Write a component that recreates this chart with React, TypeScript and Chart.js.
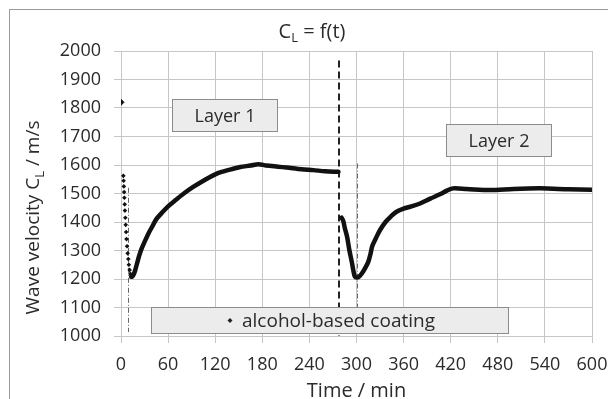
import React, { useEffect, useRef } from "react";
import { Chart, registerables } from "chart.js";

Chart.register(...registerables);

// ---- data ----
const xTickStep = 60;
const xMin = 0;
const xMax = 600;
const yMin = 1000;
const yMax = 2000;
const yTickStep = 100;

const outlierTime = [0];
const outlierValue = [1820];

const layer1DropTime = [3, 3.3, 3.6, 4, 4.3, 4.7, 5, 5.5, 6, 6.5, 7, 7.7, 8.5, 9.3, 10, 11, 12, 13];
const layer1DropValue = [1562, 1545, 1525, 1505, 1485, 1462, 1440, 1415, 1390, 1365, 1340, 1315, 1290, 1270, 1250, 1232, 1218, 1208];

const layer1Time = [13, 14, 16, 18, 20, 23, 26, 30, 35, 40, 45, 52, 60, 70, 80, 92, 105, 122, 139, 152, 165, 175, 185, 200, 211, 230, 245, 260, 277];
const layer1Value = [1208, 1208, 1215, 1230, 1250, 1280, 1305, 1330, 1360, 1385, 1410, 1432, 1455, 1478, 1500, 1523, 1545, 1570, 1584, 1593, 1598, 1603, 1598, 1594, 1591, 1585, 1582, 1578, 1576];

const layer2Time = [281, 283, 285, 288, 291, 294, 296, 298, 301, 304, 307, 311, 315, 318, 320, 325, 330, 337, 344, 351, 360, 370, 381, 394, 407, 415, 423, 440, 470, 500, 534, 570, 600];
const layer2Value = [1415, 1405, 1380, 1348, 1300, 1260, 1230, 1208, 1205, 1210, 1220, 1238, 1260, 1290, 1315, 1345, 1372, 1400, 1420, 1436, 1447, 1455, 1465, 1482, 1498, 1510, 1518, 1516, 1512, 1516, 1518, 1515, 1513];

const boundaryTime = 278;
const boundaryTop = 1967;
const minimumTimes = [9.3, 300];
const minimumTops = [1520, 1605];

const titleMain = "C";
const titleSub = "L";
const titleRest = " = f(t)";
const yTitleParts = ["Wave velocity C", "L", " / m/s"];
const xTitle = "Time / min";
const layer1Label = "Layer 1";
const layer2Label = "Layer 2";
const legendLabel = "alcohol-based coating";

// annotation boxes in data space [tStart, tEnd, vTop, vBottom]
const layer1Box = [65, 199, 1831, 1719];
const layer2Box = [414.5, 548, 1743, 1631];
const legendBox = [38, 493, 1102, 1010];

const FONT = "'Open Sans', 'DejaVu Sans', sans-serif";
const TEXT = "#2b2b2b";

function pts(t: number[], v: number[]) {
  return t.map((x, i) => ({ x, y: v[i] }));
}

export default function App() {
  const ref = useRef<HTMLCanvasElement | null>(null);

  useEffect(() => {
    if (!ref.current) return;

    const overlay = {
      id: "overlay",
      beforeDatasetsDraw(chart: any) {
        const ctx = chart.ctx;
        const xs = chart.scales.x;
        const ys = chart.scales.y;
        ctx.save();
        ctx.strokeStyle = "#222";
        ctx.lineWidth = 2;
        ctx.setLineDash([7, 4]);
        const bx = Math.round(xs.getPixelForValue(boundaryTime));
        ctx.beginPath();
        ctx.moveTo(bx, ys.getPixelForValue(boundaryTop));
        ctx.lineTo(bx, ys.getPixelForValue(yMin));
        ctx.stroke();
        ctx.strokeStyle = "#666";
        ctx.lineWidth = 1;
        ctx.setLineDash([5, 2, 1, 2]);
        minimumTimes.forEach((t, i) => {
          const x = Math.round(xs.getPixelForValue(t)) + 0.5;
          ctx.beginPath();
          ctx.moveTo(x, ys.getPixelForValue(minimumTops[i]));
          ctx.lineTo(x, ys.getPixelForValue(yMin) - 4);
          ctx.stroke();
        });
        ctx.restore();
      },
      afterDatasetsDraw(chart: any) {
        const ctx = chart.ctx;
        const xs = chart.scales.x;
        const ys = chart.scales.y;
        const drawBox = (b: number[]) => {
          const x0 = Math.round(xs.getPixelForValue(b[0])) + 0.5;
          const x1 = Math.round(xs.getPixelForValue(b[1])) + 0.5;
          const y0 = Math.round(ys.getPixelForValue(b[2])) + 0.5;
          const y1 = Math.round(ys.getPixelForValue(b[3])) + 0.5;
          ctx.fillStyle = "#ececec";
          ctx.fillRect(x0, y0, x1 - x0, y1 - y0);
          ctx.strokeStyle = "#8c8c8c";
          ctx.lineWidth = 1;
          ctx.strokeRect(x0, y0, x1 - x0, y1 - y0);
          return { x0, x1, y0, y1 };
        };
        ctx.save();
        ctx.textBaseline = "middle";
        ctx.font = `18px ${FONT}`;
        let r = drawBox(layer1Box);
        ctx.fillStyle = TEXT;
        ctx.textAlign = "center";
        ctx.fillText(layer1Label, (r.x0 + r.x1) / 2, (r.y0 + r.y1) / 2 + 1);
        r = drawBox(layer2Box);
        ctx.fillStyle = TEXT;
        ctx.fillText(layer2Label, (r.x0 + r.x1) / 2, (r.y0 + r.y1) / 2 + 1);
        r = drawBox(legendBox);
        ctx.font = `19px ${FONT}`;
        const tw = ctx.measureText(legendLabel).width;
        const total = tw + 15;
        const sx = (r.x0 + r.x1) / 2 - total / 2 + 4;
        const cy = (r.y0 + r.y1) / 2;
        ctx.fillStyle = "#222";
        ctx.beginPath();
        ctx.moveTo(sx, cy - 2.5);
        ctx.lineTo(sx + 2.5, cy);
        ctx.lineTo(sx, cy + 2.5);
        ctx.lineTo(sx - 2.5, cy);
        ctx.closePath();
        ctx.fill();
        ctx.fillStyle = TEXT;
        ctx.textAlign = "left";
        ctx.fillText(legendLabel, sx + 12, cy + 1);
        ctx.restore();
      },
      afterDraw(chart: any) {
        const ctx = chart.ctx;
        const xs = chart.scales.x;
        const ys = chart.scales.y;
        ctx.save();
        ctx.strokeStyle = "#9a9a9a";
        ctx.lineWidth = 1;
        ctx.strokeRect(9.5, 9.5, 700, 500);
        ctx.fillStyle = TEXT;
        ctx.textBaseline = "middle";
        const big = `20px ${FONT}`;
        const small = `13px ${FONT}`;
        ctx.font = big;
        const w1 = ctx.measureText(titleMain).width;
        const w3 = ctx.measureText(titleRest).width;
        ctx.font = small;
        const w2 = ctx.measureText(titleSub).width;
        let x = 312 - (w1 + w2 + w3) / 2;
        const ty = 32;
        ctx.textAlign = "left";
        ctx.font = big;
        ctx.fillText(titleMain, x, ty);
        x += w1;
        ctx.font = small;
        ctx.fillText(titleSub, x, ty + 6);
        x += w2;
        ctx.font = big;
        ctx.fillText(titleRest, x, ty);
        ctx.textAlign = "center";
        ctx.font = `20px ${FONT}`;
        ctx.fillText(xTitle, (xs.left + xs.right) / 2, 391);
        ctx.translate(34, (ys.top + ys.bottom) / 2 + 24);
        ctx.rotate(-Math.PI / 2);
        const ybig = `19px ${FONT}`;
        const ysmall = `13px ${FONT}`;
        ctx.font = ybig;
        const a = ctx.measureText(yTitleParts[0]).width;
        const c = ctx.measureText(yTitleParts[2]).width;
        ctx.font = ysmall;
        const b = ctx.measureText(yTitleParts[1]).width;
        let px = -(a + b + c) / 2;
        ctx.textAlign = "left";
        ctx.font = ybig;
        ctx.fillText(yTitleParts[0], px, 0);
        px += a;
        ctx.font = ysmall;
        ctx.fillText(yTitleParts[1], px, 6);
        px += b;
        ctx.font = ybig;
        ctx.fillText(yTitleParts[2], px, 0);
        ctx.restore();
      },
    };

    const chart = new Chart(ref.current, {
      type: "scatter",
      data: {
        datasets: [
          {
            data: pts(outlierTime, outlierValue),
            showLine: false,
            pointStyle: "rectRot",
            pointRadius: 3,
            backgroundColor: "#111",
            borderColor: "#111",
          },
          {
            data: pts(layer1DropTime, layer1DropValue),
            showLine: false,
            pointStyle: "rectRot",
            pointRadius: 2.3,
            backgroundColor: "#111",
            borderColor: "#111",
            borderWidth: 0,
          },
          {
            data: pts(layer1Time, layer1Value),
            showLine: true,
            borderColor: "#111",
            borderWidth: 4.5,
            pointRadius: 0,
            tension: 0.3,
            borderJoinStyle: "round",
            borderCapStyle: "round",
          },
          {
            data: pts(layer2Time, layer2Value),
            showLine: true,
            borderColor: "#111",
            borderWidth: 4.5,
            pointRadius: 0,
            tension: 0.3,
            borderJoinStyle: "round",
            borderCapStyle: "round",
          },
        ],
      } as any,
      options: {
        animation: false,
        responsive: false,
        maintainAspectRatio: false,
        layout: { padding: { left: 0, right: 16, top: 51, bottom: 0 } },
        plugins: { legend: { display: false }, tooltip: { enabled: false }, title: { display: false } },
        scales: {
          x: {
            type: "linear",
            min: xMin,
            max: xMax,
            border: { display: false },
            grid: { color: "#c6c6c6", lineWidth: 1, tickLength: 7 },
            ticks: {
              stepSize: xTickStep,
              color: TEXT,
              font: { family: FONT, size: 18 },
              padding: 11,
              maxRotation: 0,
              callback: (v: any) => String(v),
            },
            afterFit: (s: any) => {
              s.height = 63;
              s.paddingLeft = 0;
              s.paddingRight = 0;
            },
          },
          y: {
            type: "linear",
            min: yMin,
            max: yMax,
            border: { display: false },
            grid: { color: "#c6c6c6", lineWidth: 1, tickLength: 7 },
            ticks: {
              stepSize: yTickStep,
              color: TEXT,
              font: { family: FONT, size: 18 },
              padding: 13,
              callback: (v: any) => String(v),
            },
            afterFit: (s: any) => {
              s.width = 121;
              s.paddingTop = 0;
              s.paddingBottom = 0;
            },
          },
        },
      } as any,
      plugins: [overlay],
    });
    return () => chart.destroy();
  }, []);

  return (
    <div style={{ position: "fixed", left: 0, top: 0, width: 608, height: 399, background: "#fff" }}>
      <canvas ref={ref} width={608} height={399} style={{ width: 608, height: 399 }} />
    </div>
  );
}
